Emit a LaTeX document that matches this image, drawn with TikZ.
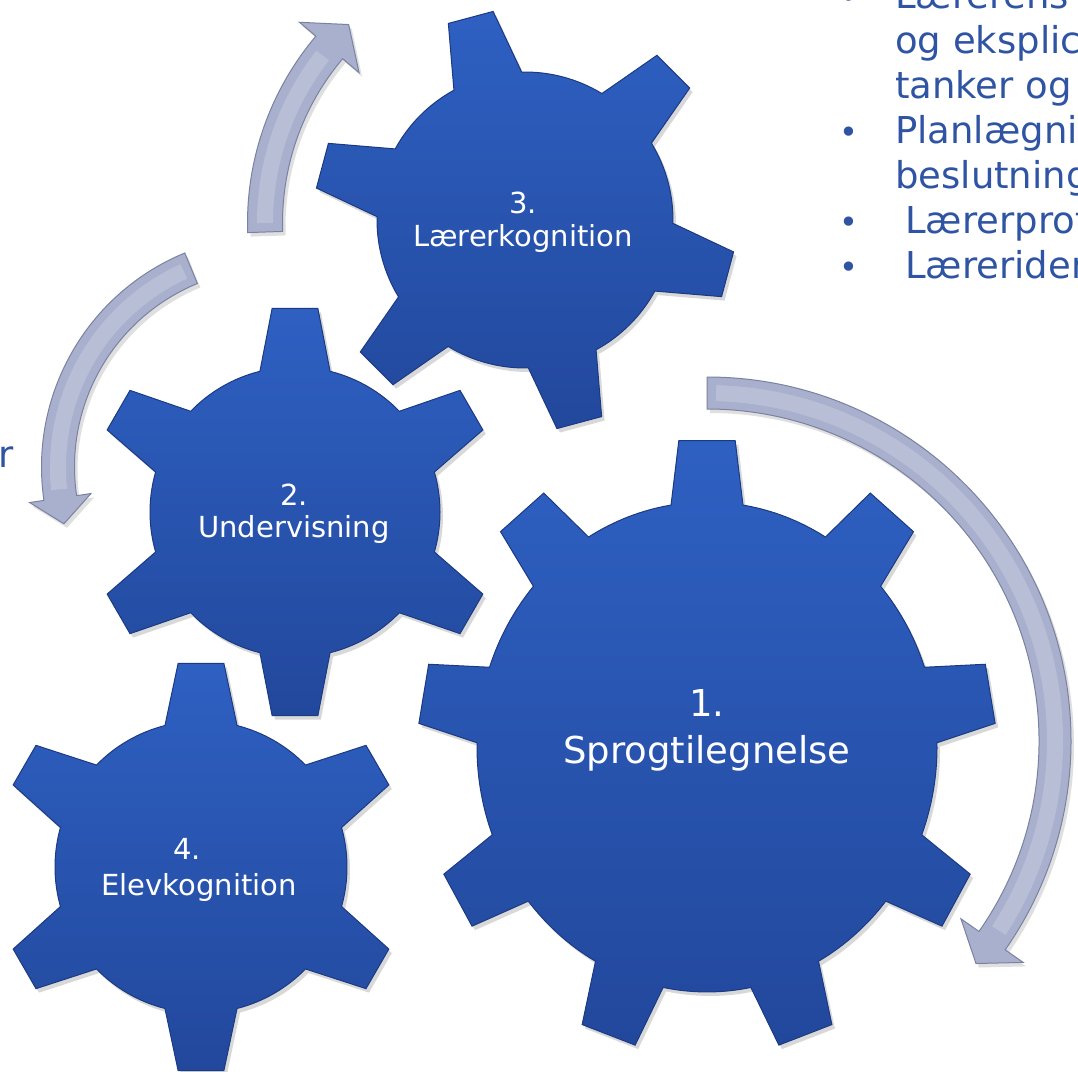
\documentclass[tikz,border=0pt]{standalone}
\usepackage{fontspec}
\setmainfont{DejaVu Sans}
\usetikzlibrary{shadows}

\definecolor{gearTop}{RGB}{46,96,194}
\definecolor{gearBot}{RGB}{34,72,156}
\definecolor{gearRim}{RGB}{28,58,130}
\definecolor{arrowFill}{RGB}{168,176,206}
\definecolor{arrowRim}{RGB}{122,130,162}
\definecolor{textBlue}{RGB}{47,84,163}

\begin{document}
\begin{tikzpicture}
[ x=1pt, y=-1pt
, gear/.style={top color=gearTop, bottom color=gearBot, draw=gearRim, line width=1,
    drop shadow={opacity=.3, shadow xshift=3pt, shadow yshift=-4pt}}
, curvedarrow/.style={fill=arrowFill, draw=arrowRim, line width=1,
    drop shadow={opacity=.25, shadow xshift=3pt, shadow yshift=-4pt}}
, shine/.style={draw=white, opacity=.18, line width=16}
, numtext/.style={text=white, inner sep=0, anchor=base, font=\fontsize{29}{33}\selectfont}
, bignumtext/.style={numtext, font=\fontsize{37}{45}\selectfont}
, sidetext/.style={text=textBlue, inner sep=0, anchor=base west, font=\fontsize{37}{45}\selectfont}
, bulletmark/.style={sidetext, anchor=base, font=\fontsize{32}{45}\selectfont}
]
\useasboundingbox (0,0) rectangle (1078,1071);
\clip (0,0) rectangle (1078,1071);
\fill[white] (0,0) rectangle (1078,1071);

% Arrows:
\begin{scope}[shift={(537,223)}]
\path[curvedarrow] (178.1:289.5) arc[start angle=178.1, end angle=220.2, radius=289.5]
  -- (220.2:311) -- (226.5:273.6) -- (220.2:233) -- (220.2:254.5)
  arc[start angle=220.2, end angle=178.1, radius=254.5] -- cycle;
\draw[shine] (180:272) arc[start angle=180, end angle=218, radius=272];
\end{scope}
\begin{scope}[shift={(273,467)}]
\path[curvedarrow] (247.6:231.5) arc[start angle=247.6, end angle=171.7, radius=231.5]
  -- (171.7:246) -- (164.8:216.6) -- (171.7:184) -- (171.7:198.5)
  arc[start angle=171.7, end angle=247.6, radius=198.5] -- cycle;
\draw[shine] (245.5:215) arc[start angle=245.5, end angle=174, radius=215];
\end{scope}
\begin{scope}[shift={(707,741)}]
\path[curvedarrow] (270:364) arc[start angle=270, end angle=395, radius=364]
  -- (395:386) -- (399.6:349.1) -- (395:310) -- (395:332)
  arc[start angle=395, end angle=270, radius=332] -- cycle;
\draw[shine] (271.5:348) arc[start angle=271.5, end angle=393, radius=348];
\end{scope}

% Gears:
\begin{scope}[shift={(707,747)}, yscale=1.065]
\path[gear] (21:230) \foreach \a in {30,70,...,350} {
  -- (\a-5.6:289) -- (\a+5.6:289) -- (\a+9:230)
  arc[start angle=\a+9, end angle=\a+31, radius=230] } -- cycle;
\end{scope}
\begin{scope}[shift={(295,512)}]
\path[gear] (16:145) \foreach \a in {30,90,...,330} {
  -- (\a-6.4:205) -- (\a+6.4:205) -- (\a+14:145)
  arc[start angle=\a+14, end angle=\a+46, radius=145] } -- cycle;
\end{scope}
\begin{scope}[shift={(525,220)}]
\path[gear] (1.3:148) \foreach \a in {15,75,...,315} {
  -- (\a-6.3:211) -- (\a+6.3:211) -- (\a+13.7:148)
  arc[start angle=\a+13.7, end angle=\a+46.3, radius=148] } -- cycle;
\end{scope}
\begin{scope}[shift={(201,867)}]
\path[gear] (15.7:146) \foreach \a in {30,90,...,330} {
  -- (\a-6.4:205) -- (\a+6.4:205) -- (\a+14.3:146)
  arc[start angle=\a+14.3, end angle=\a+45.7, radius=146] } -- cycle;
\end{scope}

% Gear labels:
\node (g1num) [bignumtext] at (707,716) {1.};
\node (g1txt) [bignumtext] at (707,763) {Sprogtilegnelse};
\node (g2num) [numtext] at (294,505) {2.};
\node (g2txt) [numtext] at (294,537) {Undervisning};
\node (g3num) [numtext] at (523,213) {3.};
\node (g3txt) [numtext] at (523,246) {Lærerkognition};
\node (g4num) [numtext] at (187,859) {4.};
\node (g4txt) [numtext] at (199,895) {Elevkognition};

% Side text:
\node (dot1) [bulletmark] at (849,8) {•};
\node (line1) [sidetext] at (895,8) {Lærerens};
\node (line2) [sidetext] at (895,53) {og eksplici};
\node (line3) [sidetext] at (895,98) {tanker og};
\node (dot2) [bulletmark] at (849,143) {•};
\node (line4) [sidetext] at (895,143) {Planlægnin};
\node (line5) [sidetext] at (895,188) {beslutning};
\node (dot3) [bulletmark] at (849,233) {•};
\node (line6) [sidetext] at (905,233) {Lærerprof};
\node (dot4) [bulletmark] at (849,278) {•};
\node (line7) [sidetext] at (905,278) {Læreriden};
\node (leftword) [sidetext, anchor=base east] at (14,467) {r};
\end{tikzpicture}
\end{document}
